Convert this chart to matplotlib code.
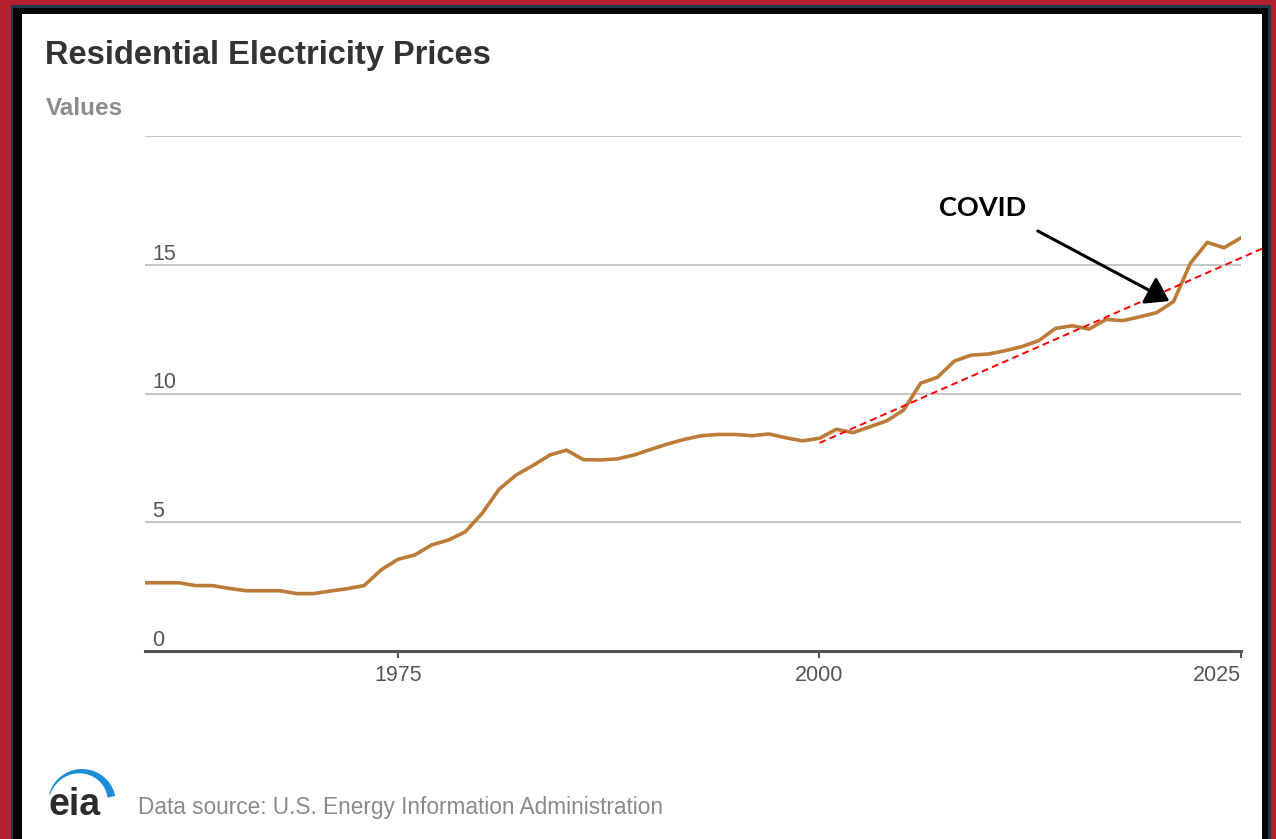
import numpy as np
import matplotlib
matplotlib.use("Agg")
import matplotlib.pyplot as plt
from matplotlib.patches import Rectangle, Polygon

# --------- DATA ---------
years = list(range(1960, 2026))
prices = [
    2.65, 2.65, 2.65, 2.54, 2.54, 2.43, 2.34, 2.34, 2.34, 2.23,
    2.23, 2.33, 2.42, 2.54, 3.15, 3.56, 3.73, 4.12, 4.31, 4.63,
    5.35, 6.28, 6.83, 7.20, 7.61, 7.80, 7.43, 7.42, 7.46, 7.61,
    7.83, 8.04, 8.22, 8.36, 8.41, 8.41, 8.36, 8.43, 8.28, 8.16,
    8.26, 8.61, 8.48, 8.71, 8.94, 9.36, 10.40, 10.63, 11.26, 11.49,
    11.53, 11.66, 11.82, 12.05, 12.53, 12.63, 12.50, 12.88, 12.83, 12.98,
    13.14, 13.57, 15.06, 15.87, 15.66, 16.05,
]
trend_years = [2000, 2026.3]
trend_values = [8.08, 15.64]
covid_text_pos = (2009.7, 17.2)
covid_arrow_tail = (2012.95, 16.31)
covid_arrow_tip = (2020.75, 13.59)

xticks = [1975, 2000, 2025]
yticks = [0, 5, 10, 15, 20]
ytick_labels = ["0", "5", "10", "15", ""]

W, H = 1276, 839
plt.rcParams['font.family'] = ['Liberation Sans', 'DejaVu Sans']

fig = plt.figure(figsize=(W / 100, H / 100), dpi=100)
fig.patch.set_facecolor('#b3202f')

def px_rect(x0, x1, ytop, color):
    r = Rectangle((x0 / W, 0), (x1 - x0) / W, 1 - ytop / H,
                  transform=fig.transFigure, facecolor=color, edgecolor='none', zorder=0)
    fig.add_artist(r)

# frame: navy line, black border, white panel
px_rect(11, 1271, 5, '#1d3a4f')
px_rect(13, 1268, 8, '#050505')
px_rect(22, 1262, 14, 'white')

ax = fig.add_axes([145 / W, 1 - 651 / H, (1241 - 145) / W, (651 - 136) / H])
ax.set_facecolor('none')
ax.plot(years, prices, color='#bd7b38', lw=2.6, solid_joinstyle='round', zorder=3)

# trend line reaching past the axes to the panel edge
ax.plot(trend_years, trend_values, color='red', lw=1.4, linestyle=(0, (3.5, 2.2)),
        clip_on=False, zorder=4)

ax.set_xlim(1960, 2025)
ax.set_ylim(0, 20)
for s in ['left', 'right', 'top']:
    ax.spines[s].set_visible(False)
ax.spines['bottom'].set_color('#555555')
ax.spines['bottom'].set_linewidth(2.2)
ax.spines['bottom'].set_zorder(5)

ax.set_yticks(yticks)
ax.set_yticklabels(ytick_labels)
ax.grid(True, axis='y', color='#c6c6c6', lw=1.4)
ax.set_axisbelow(True)
ax.tick_params(axis='y', length=0, pad=-5, labelsize=15.5, labelcolor='#555555')
for lab in ax.get_yticklabels():
    lab.set_ha('left')
    lab.set_va('bottom')

ax.set_xticks(xticks)
ax.set_xticklabels([str(x) for x in xticks])
ax.tick_params(axis='x', direction='out', length=5, width=1.5, color='#555555',
               pad=5, labelsize=15.5, labelcolor='#555555')
ax.get_xticklabels()[-1].set_ha('right')

# COVID annotation
ax.text(covid_text_pos[0], covid_text_pos[1], "COVID", ha='center', va='center',
        fontsize=19.5, fontweight='bold', family=['Lato', 'DejaVu Sans'], color='black')
ax.annotate('', xy=covid_arrow_tip, xytext=covid_arrow_tail,
            arrowprops=dict(arrowstyle='-|>,head_length=0.6,head_width=0.4', color='black',
                            lw=2.2, mutation_scale=23, shrinkA=0, shrinkB=0), zorder=6)

# titles
fig.text(45 / W, 1 - 64 / H, "Residential Electricity Prices", fontsize=23.5,
         fontweight='bold', color='#333333', va='baseline')
fig.text(46 / W, 1 - 115 / H, "Values", fontsize=17.5, fontweight='bold',
         color='#8c8c8c', va='baseline')

# footer with eia logo
fig.text(49 / W, 1 - 815 / H, "eia", fontsize=27, fontweight='bold',
         color='#2b2b2b', va='baseline')
t = np.radians(np.linspace(165, 12, 40))
wdt = np.linspace(1.0, 8.0, 40)
cx, cy, r = 82, 803, 34
outer = np.column_stack([cx + r * np.cos(t), cy - r * np.sin(t)])
inner = np.column_stack([cx + (r - wdt) * np.cos(t), cy - (r - wdt) * np.sin(t)])[::-1]
pts = np.vstack([outer, inner])
pts = np.column_stack([pts[:, 0] / W, 1 - pts[:, 1] / H])
fig.add_artist(Polygon(pts, closed=True, transform=fig.transFigure,
                       facecolor='#1b8ed6', edgecolor='none'))
fig.text(138 / W, 1 - 814 / H, "Data source: U.S. Energy Information Administration",
         fontsize=16.3, color='#8a8a8a', va='baseline')

fig.savefig("out.png", dpi=100, facecolor=fig.get_facecolor())
